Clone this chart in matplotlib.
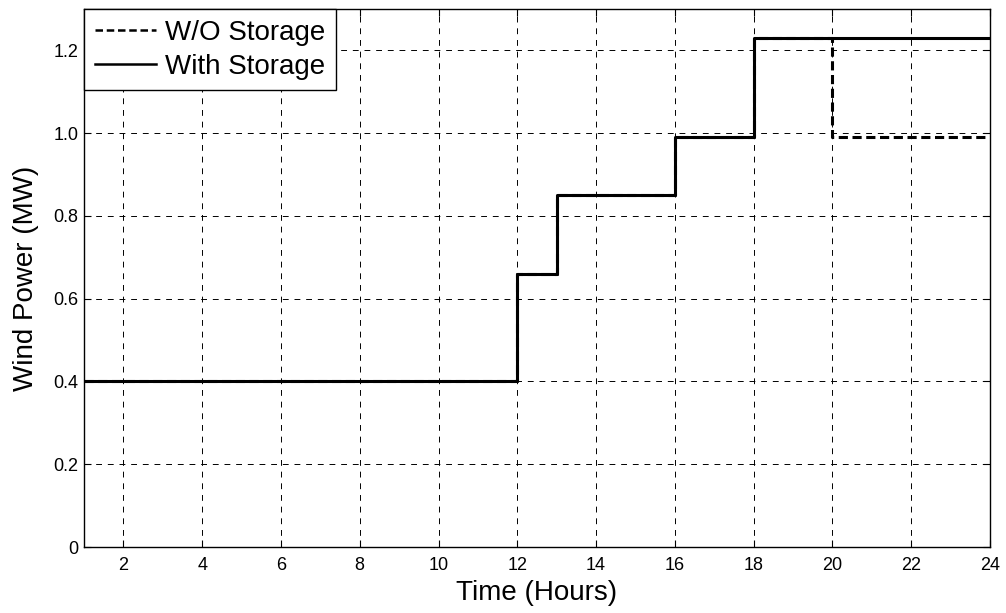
import matplotlib
matplotlib.use("Agg")
import matplotlib.pyplot as plt

plt.rcParams['font.family'] = ['Liberation Sans', 'DejaVu Sans']

# Hourly wind power dispatch (MW), value held from each hour to the next
hours = list(range(1, 25))
without_storage = [0.40] * 11 + [0.66] + [0.85] * 3 + [0.99] * 2 + [1.23] * 2 + [0.99] * 5
with_storage = [0.40] * 11 + [0.66] + [0.85] * 3 + [0.99] * 2 + [1.23] * 7

x_ticks = list(range(2, 25, 2))
y_ticks = [0, 0.2, 0.4, 0.6, 0.8, 1.0, 1.2]
y_tick_labels = ['0', '0.2', '0.4', '0.6', '0.8', '1.0', '1.2']

fig = plt.figure(figsize=(10.06, 6.13), dpi=100)
ax = fig.add_axes([84 / 1006, 1 - 547 / 613, (990 - 84) / 1006, (547 - 9) / 613])

ax.step(hours, without_storage, where='post', color='black', linestyle='--',
        linewidth=2.2, label='W/O Storage', dashes=(3, 1.5))
ax.step(hours, with_storage, where='post', color='black', linestyle='-',
        linewidth=2.2, label='With Storage')

ax.set_xlim(1, 24)
ax.set_ylim(0, 1.3)
ax.set_xticks(x_ticks)
ax.set_yticks(y_ticks)
ax.set_yticklabels(y_tick_labels)
ax.tick_params(direction='in', top=True, right=True, labelsize=13, length=5,
               width=0.8)
ax.tick_params(axis='x', pad=7.5)
ax.tick_params(axis='y', pad=4)
ax.grid(True, color='black', linestyle=(0, (6, 6)), linewidth=0.7)
for s in ax.spines.values():
    s.set_linewidth(1.0)

ax.set_xlabel('Time (Hours)', fontsize=20, labelpad=4)
ax.set_ylabel('Wind Power (MW)', fontsize=20, labelpad=10)

leg = ax.legend(loc='upper left', fontsize=20, frameon=True, fancybox=False,
                borderaxespad=0, handlelength=2.2, handletextpad=0.35,
                borderpad=0.38, labelspacing=0.3, framealpha=1)
leg.get_frame().set_edgecolor('black')
leg.get_frame().set_linewidth(1.0)
for line in leg.get_lines():
    line.set_linewidth(1.8)

fig.savefig('out.png', dpi=100)
